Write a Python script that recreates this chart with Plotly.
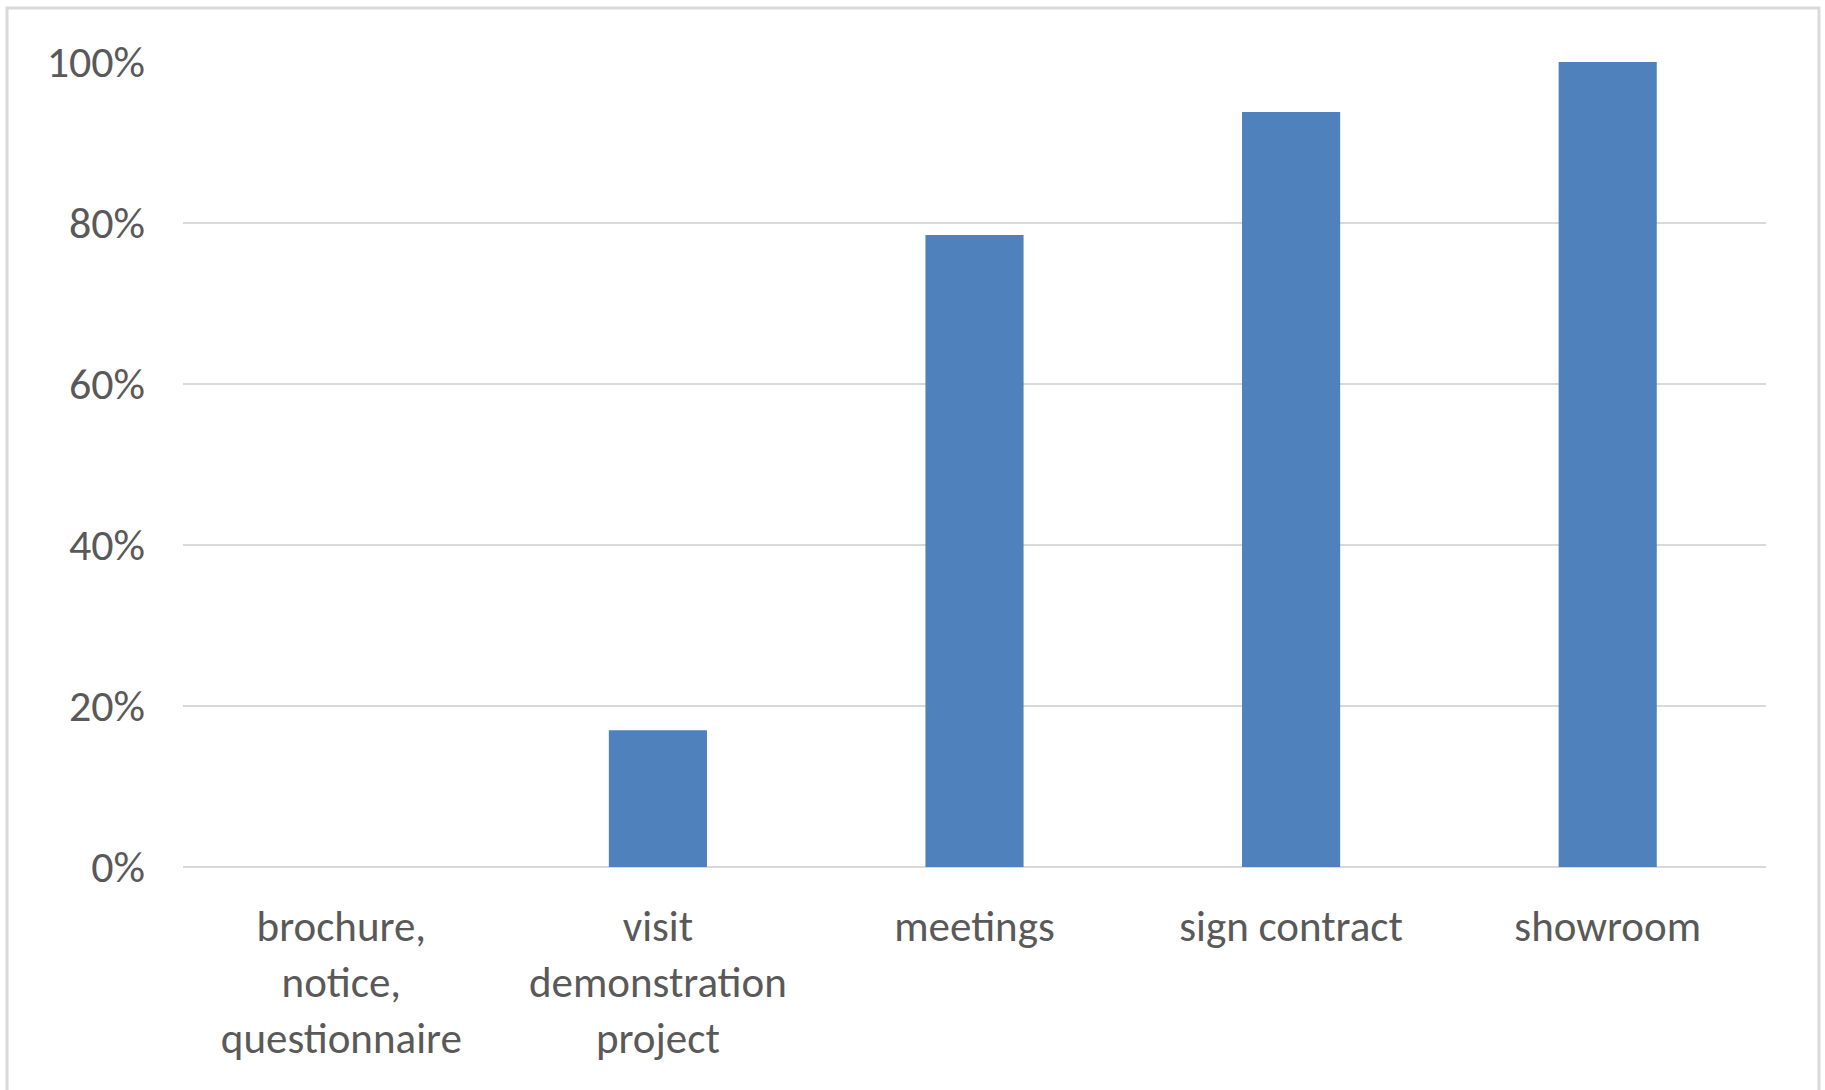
import plotly.graph_objects as go

# Share of respondents by communication channel
categories = [
    "brochure,<br>notice,<br>questionnaire",
    "visit<br>demonstration<br>project",
    "meetings",
    "sign contract",
    "showroom",
]
shares = [0.0, 0.17, 0.785, 0.938, 1.0]
y_ticks = [0, 0.2, 0.4, 0.6, 0.8, 1.0]
y_tick_labels = ["0%", "20%", "40%", "60%", "80%", "100%"]

W, H = 1825, 1090
L, R, T, B = 183, 59, 62, 223
pw, ph = W - L - R, H - T - B


def px_x(px):
    return (px - L) / pw


def px_y(py):
    return (H - B - py) / ph


fig = go.Figure(
    go.Bar(
        x=categories,
        y=shares,
        marker=dict(color="#4f81bd", line=dict(width=0)),
        width=0.31,
        hoverinfo="skip",
    )
)

font_family = "Carlito, Calibri, Lato, sans-serif"

fig.update_layout(
    width=W,
    height=H,
    margin=dict(l=L, r=R, t=T, b=B),
    paper_bgcolor="white",
    plot_bgcolor="white",
    showlegend=False,
    font=dict(family=font_family, color="#595959", size=43),
    shapes=[
        dict(
            type="rect",
            xref="paper",
            yref="paper",
            x0=px_x(7),
            x1=px_x(1819),
            y0=px_y(1100),
            y1=px_y(8),
            line=dict(color="#d9d9d9", width=3),
            layer="below",
        )
    ],
)

fig.update_xaxes(
    showgrid=False,
    showline=False,
    zeroline=False,
    ticks="",
    tickfont=dict(size=43, color="#595959"),
    ticklabelstandoff=30,
)

fig.update_yaxes(
    range=[0, 1.0],
    tickvals=y_ticks,
    ticktext=y_tick_labels,
    showgrid=True,
    gridcolor="#d9d9d9",
    gridwidth=2,
    zeroline=True,
    zerolinecolor="#d9d9d9",
    zerolinewidth=2,
    showline=False,
    ticks="",
    tickfont=dict(size=44, color="#595959"),
    ticklabelstandoff=37,
)

fig.write_html("out.html")
